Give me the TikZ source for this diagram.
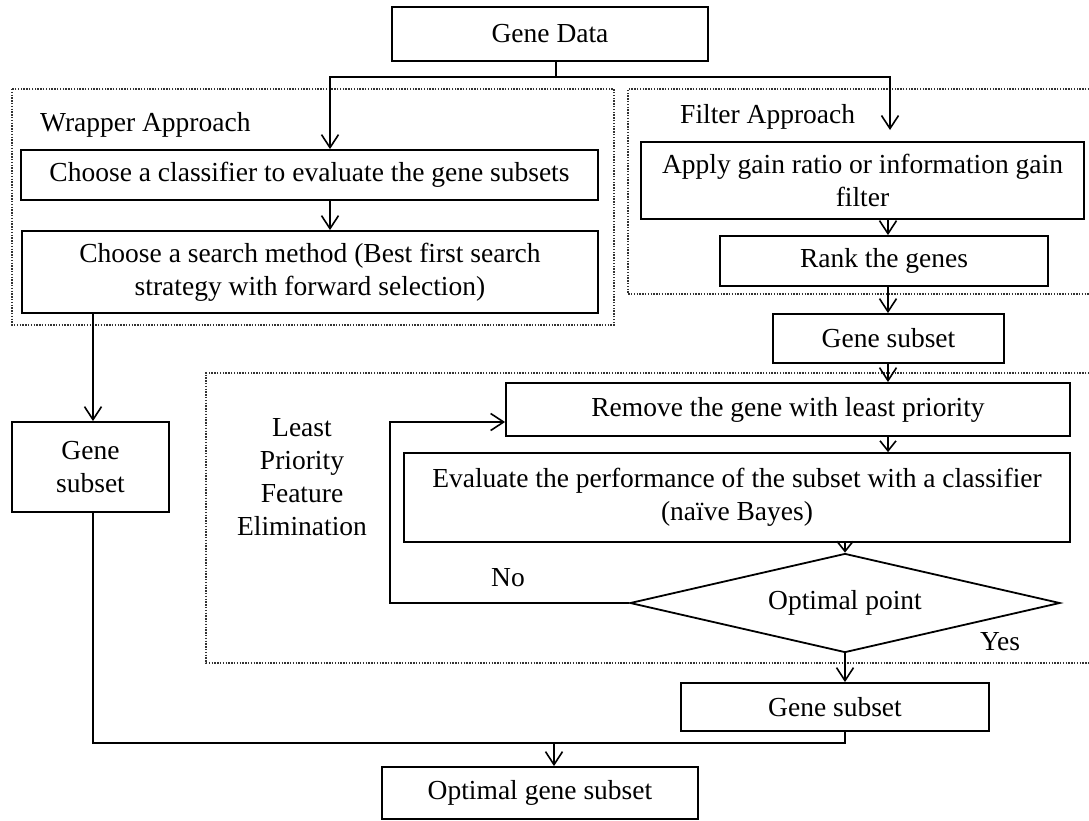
\documentclass[tikz,border=0pt]{standalone}
\usepackage{fontspec}
\setmainfont{Liberation Serif}
\usetikzlibrary{arrows.meta,shapes.geometric}
\begin{document}
\begin{tikzpicture}[x=1pt,y=-1pt,
  every node/.style={font=\fontsize{27.5pt}{33pt}\selectfont, inner sep=0pt},
  box/.style={draw, line width=1.8pt, rectangle, align=center},
  dec/.style={draw, line width=1.8pt, diamond, aspect=4.3},
  arr/.style={line width=1.6pt, -{Straight Barb[length=13pt,width=17pt,line width=1.6pt]}},
  sarr/.style={line width=1.6pt, -{Straight Barb[length=10pt,width=16pt,line width=1.6pt]}},
  ln/.style={line width=1.6pt},
  grp/.style={line width=1.5pt, dash pattern=on 1.4pt off 1.4pt, draw=black!80}]
\useasboundingbox (0,0) rectangle (1089,820);
\fill[white] (0,0) rectangle (1089,820);

% group frames
\draw[grp] (12,89) rectangle (614,325);
\draw[grp] (1092,89) -- (628,89) -- (628,294) -- (1092,294);
\draw[grp] (1092,373) -- (206,373) -- (206,663) -- (1092,663);

% nodes
\node[box, minimum width=316pt, minimum height=54pt] (gd) at (550,34) {Gene Data};
\node[anchor=west] (wl) at (40,125) {Wrapper Approach};
\node[box, minimum width=577pt, minimum height=50pt] (c1) at (309.5,175) {Choose a classifier to evaluate the gene subsets};
\node[box, minimum width=576pt, minimum height=82pt] (c2) at (310,272) {Choose a search method (Best first search\\strategy with forward selection)};
\node[anchor=west] (fl) at (680,117) {Filter Approach};
\node[box, minimum width=443pt, minimum height=77pt] (ap) at (862.5,180.5) {Apply gain ratio or information gain\\filter};
\node[box, minimum width=328pt, minimum height=50pt] (rk) at (884,261) {Rank the genes};
\node[box, minimum width=231pt, minimum height=49pt] (gs1) at (888.5,338.5) {Gene subset};
\node[align=center] (lp) at (302,477) {Least\\Priority\\Feature\\Elimination};
\node[box, minimum width=564pt, minimum height=53pt] (rm) at (788,409.5) {Remove the gene with least priority};
\node[box, minimum width=666pt, minimum height=89pt] (ev) at (737,497.5) {Evaluate the performance of the subset with a classifier\\(naïve Bayes)};
\node[dec, minimum width=430pt, minimum height=99pt] (dm) at (845,603) {Optimal point};
\node (no) at (508,578) {No};
\node (yes) at (1000,642) {Yes};
\node[box, minimum width=157pt, minimum height=90pt] (gsl) at (90.5,467) {Gene\\subset};
\node[box, minimum width=308pt, minimum height=48pt] (gs2) at (835,707) {Gene subset};
\node[box, minimum width=316pt, minimum height=52pt] (opt) at (540,793) {Optimal gene subset};

% helper coordinates
\coordinate (j) at (556,77);
\coordinate (fa) at (890,130);
\coordinate (cx) at (888,0);
\coordinate (lx) at (93,0);
\coordinate (m) at (554,743);
\coordinate (lp0) at (390,0);
\coordinate (rmin) at ([yshift=-12.5pt]rm.west);

% connectors
\draw[ln] (gd.south -| j) -- (j);
\draw[arr] (j) -| ([xshift=20.5pt]c1.north);
\draw[arr] (j) -| (fa);
\draw[arr] ([xshift=20.5pt]c1.south) -- ([xshift=20.5pt]c1.south |- c2.north);
\draw[arr] (ap.south -| cx) -- (rk.north -| cx);
\draw[arr] (rk.south -| cx) -- (gs1.north -| cx);
\draw[arr] (gs1.south -| cx) -- (rm.north -| cx);
\draw[sarr] (rm.south -| cx) -- (ev.north -| cx);
\draw[sarr] (ev.south -| dm.north) -- (dm.north);
\draw[arr] (dm.west) -| (lp0 |- rmin) -- (rmin);
\draw[arr] (dm.south) -- (gs2.north -| dm.south);
\draw[arr] (c2.south -| lx) -- (gsl.north -| lx);
\draw[ln] (gsl.south -| lx) |- (m);
\draw[ln] (gs2.south -| dm.south) |- (m);
\draw[arr] (m) -- (opt.north -| m);
\end{tikzpicture}
\end{document}
